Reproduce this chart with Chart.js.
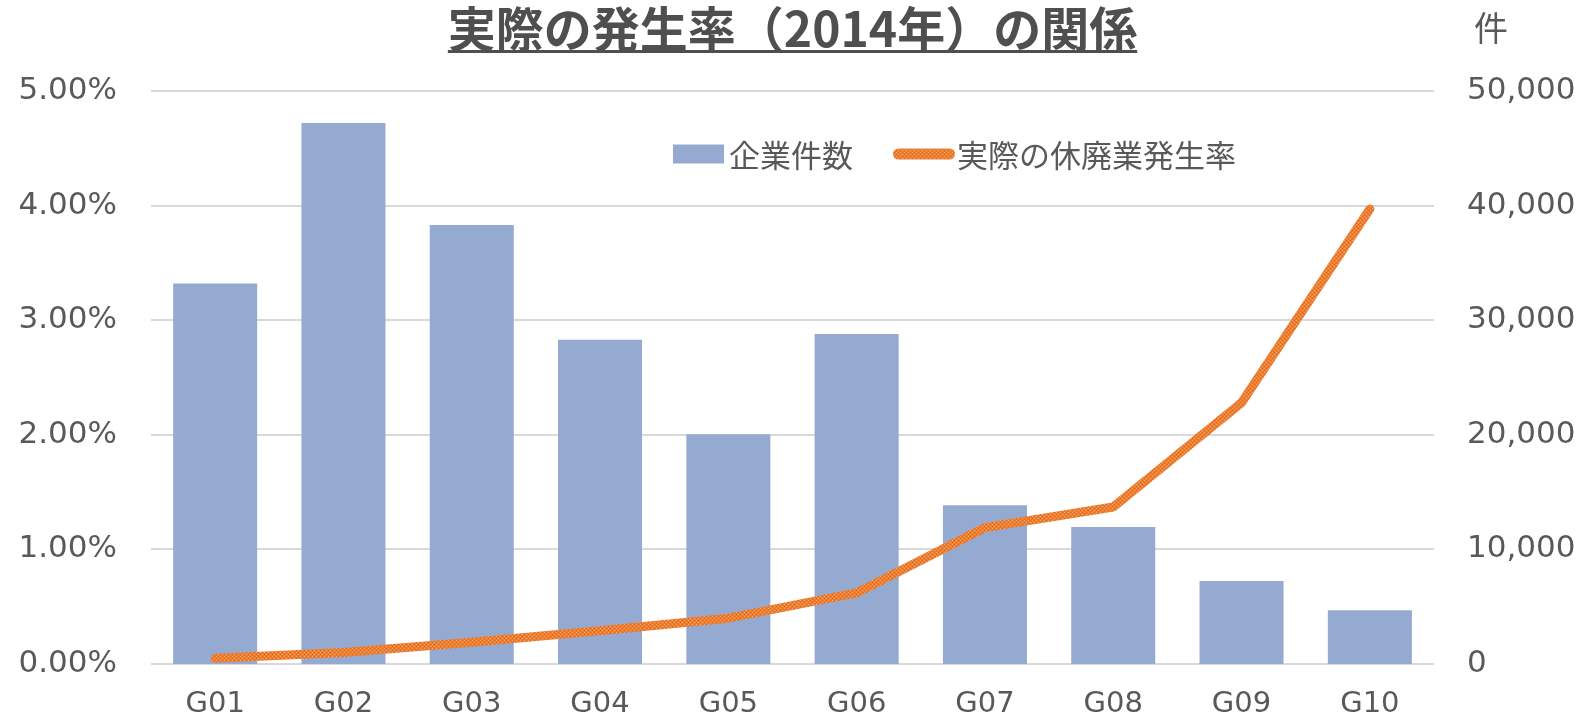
<!DOCTYPE html>
<html><head><meta charset="utf-8">
<script src="https://cdn.jsdelivr.net/npm/chart.js@4.4.1/dist/chart.umd.min.js"></script>
<style>html,body{margin:0;padding:0;background:#fff}#wrap{width:1585px;height:721px}</style>
</head><body><div id="wrap"><canvas id="c" width="1585" height="721"></canvas></div>
<script>
const categories = ['G01','G02','G03','G04','G05','G06','G07','G08','G09','G10'];
const companyCounts = [33200, 47200, 38300, 28300, 20050, 28800, 13850, 11950, 7250, 4700];
const closureRates = [0.05, 0.10, 0.19, 0.29, 0.40, 0.62, 1.19, 1.37, 2.28, 3.97];
const seriesNames = ['企業件数', '実際の休廃業発生率'];
const titleText = '実際の発生率（2014年）の関係';
const unitLabel = '件';

const BAR_COLOR = '#95AAD0';
const TICK_COLOR = '#595959';
const GRID_COLOR = '#D9D9D9';
const CJK = '"Noto Sans CJK JP", "Noto Sans", sans-serif';
const LAT = '"DejaVu Sans", sans-serif';

function makePattern() {
  const p = document.createElement('canvas');
  p.width = 4; p.height = 4;
  const g = p.getContext('2d');
  g.fillStyle = '#ED7D31'; g.fillRect(0,0,4,4);
  g.fillStyle = '#F5A86B';
  g.fillRect(0,0,1,1); g.fillRect(2,2,1,1);
  g.fillStyle = '#DE6E1E';
  g.fillRect(2,0,1,1); g.fillRect(0,2,1,1);
  return g.createPattern(p, 'repeat');
}
const linePattern = makePattern();

const decor = {
  id: 'decor',
  afterDraw(chart) {
    const ctx = chart.ctx;
    const ca = chart.chartArea;
    ctx.save();
    // title underline
    ctx.font = 'bold 48px ' + CJK;
    const tw = ctx.measureText(titleText).width;
    const cx = (chart.titleBlock.left + chart.titleBlock.right) / 2;
    ctx.fillStyle = '#4F4F4F';
    ctx.fillRect(cx - tw/2, 50, tw, 3);
    // unit label
    ctx.font = '34px ' + CJK;
    ctx.fillStyle = TICK_COLOR;
    ctx.textAlign = 'center';
    ctx.textBaseline = 'middle';
    ctx.fillText(unitLabel, 1491, 28);
    // legend
    const ly = ca.top + 63;
    ctx.font = '31px ' + CJK;
    ctx.textAlign = 'left';
    let x = 673;
    ctx.fillStyle = BAR_COLOR;
    ctx.fillRect(x, ly - 9.5, 51, 19);
    ctx.fillStyle = TICK_COLOR;
    ctx.fillText(chart.data.datasets[0].label, x + 56, ly + 1);
    x = x + 56 + ctx.measureText(chart.data.datasets[0].label).width + 40;
    ctx.strokeStyle = linePattern;
    ctx.lineWidth = 11;
    ctx.lineCap = 'round';
    ctx.beginPath();
    ctx.moveTo(x + 5.5, ly); ctx.lineTo(x + 62 - 5.5, ly);
    ctx.stroke();
    ctx.fillStyle = TICK_COLOR;
    ctx.fillText(chart.data.datasets[1].label, x + 64, ly + 1);
    ctx.restore();
  }
};

new Chart(document.getElementById('c'), {
  data: {
    labels: categories,
    datasets: [
      {
        type: 'bar', label: seriesNames[0], data: companyCounts, yAxisID: 'yR',
        backgroundColor: BAR_COLOR, barPercentage: 0.655, categoryPercentage: 1, order: 2
      },
      {
        type: 'line', label: seriesNames[1], data: closureRates, yAxisID: 'yL',
        borderColor: linePattern, borderWidth: 9, tension: 0, pointRadius: 0,
        borderCapStyle: 'round', borderJoinStyle: 'round', order: 1
      }
    ]
  },
  options: {
    responsive: false, animation: false, devicePixelRatio: 1,
    layout: { padding: { left: 0, right: 0, top: 0, bottom: 0 } },
    plugins: {
      legend: { display: false },
      tooltip: { enabled: false },
      title: {
        display: true, text: titleText, color: '#4F4F4F',
        font: { family: CJK, size: 48, weight: 'bold', lineHeight: 1.2 },
        padding: { top: 0, bottom: 33.4 }
      }
    },
    scales: {
      x: {
        grid: { display: false, drawTicks: false },
        border: { display: false },
        ticks: { color: TICK_COLOR, font: { family: LAT, size: 29 }, padding: 23, maxRotation: 0 },
        afterFit(s) { s.height = 57; }
      },
      yL: {
        position: 'left', min: 0, max: 5,
        grid: { color: GRID_COLOR, lineWidth: 2, drawTicks: false },
        border: { display: false },
        ticks: { stepSize: 1, color: TICK_COLOR, font: { family: LAT, size: 31 }, padding: 34,
          callback: v => v.toFixed(2) + '%' },
        afterFit(s) { s.width = 151; }
      },
      yR: {
        position: 'right', min: 0, max: 50000,
        grid: { display: false, drawTicks: false },
        border: { display: false },
        ticks: { stepSize: 10000, color: TICK_COLOR, font: { family: LAT, size: 31 }, padding: 33,
          callback: v => v.toLocaleString('en-US') },
        afterFit(s) { s.width = 151; }
      }
    }
  },
  plugins: [decor]
});
</script></body></html>
